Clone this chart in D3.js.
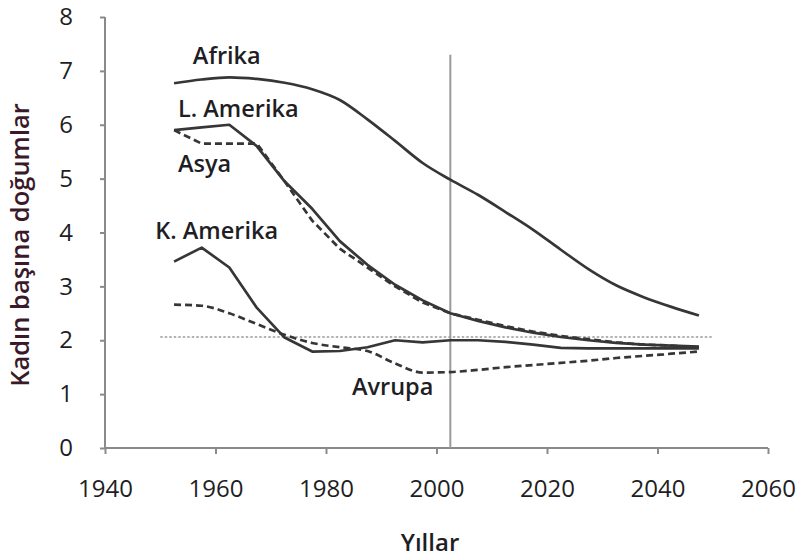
<!DOCTYPE html>
<html><head><meta charset="utf-8">
<script src="https://cdn.jsdelivr.net/npm/d3@7"></script>
<style>
body{margin:0;background:#fff;}
svg{display:block;font-family:"Open Sans",sans-serif;}
</style></head>
<body><svg id="c" width="799" height="558"></svg>
<script>
const years = [1952.5,1957.5,1962.5,1967.5,1972.5,1977.5,1982.5,1987.5,1992.5,1997.5,2002.5,2007.5,2012.5,2017.5,2022.5,2027.5,2032.5,2037.5,2042.5,2047.5];
const afrika   = [6.77,6.84,6.88,6.85,6.78,6.66,6.46,6.10,5.70,5.29,4.98,4.70,4.38,4.05,3.68,3.32,3.02,2.80,2.62,2.46];
const lAmerika = [5.90,5.95,6.00,5.60,4.95,4.44,3.84,3.40,3.03,2.74,2.50,2.36,2.24,2.14,2.06,2.00,1.95,1.92,1.90,1.88];
const asya     = [5.90,5.65,5.65,5.65,4.95,4.22,3.70,3.35,3.00,2.70,2.50,2.38,2.26,2.16,2.08,2.02,1.96,1.92,1.90,1.87];
const kAmerika = [3.46,3.72,3.35,2.60,2.05,1.79,1.80,1.87,2.00,1.96,2.00,2.00,1.97,1.92,1.86,1.85,1.85,1.85,1.85,1.85];
const avrupa   = [2.66,2.64,2.50,2.30,2.10,1.95,1.87,1.80,1.57,1.40,1.41,1.45,1.50,1.54,1.58,1.62,1.67,1.71,1.75,1.79];
const replacementYears = [1950,2050];
const replacementLevel = [2.06,2.06];
const currentYear = 2002.5;
const currentTop = 7.3;
const xTicks = [1940,1960,1980,2000,2020,2040,2060];
const yTicks = [0,1,2,3,4,5,6,7,8];
const labels = ["Afrika","L. Amerika","Asya","K. Amerika","Avrupa"];
const labelYears = [1955.9,1953.2,1953.2,1949.1,1984.7];
const labelVals  = [7.12,6.15,5.12,3.88,0.98];

const svg = d3.select("#c");
const x = d3.scaleLinear().domain([1940,2060]).range([105,768]);
const y = d3.scaleLinear().domain([0,8]).range([448,17]);
const textCol = "#1e1e24";

// axes
const gx = svg.append("g").attr("transform","translate(0,448)")
  .call(d3.axisBottom(x).tickValues(xTicks).tickFormat(d3.format("d")).tickSize(6).tickPadding(26));
const gy = svg.append("g").attr("transform","translate(105,0)")
  .call(d3.axisLeft(y).tickValues(yTicks).tickSize(5).tickPadding(27));
[gx,gy].forEach(g=>{
  g.select(".domain").attr("stroke","#8a8a8a").attr("stroke-width",2);
  g.selectAll(".tick line").attr("stroke","#8a8a8a").attr("stroke-width",2);
  g.selectAll("text").attr("fill",textCol).style("font-size","24px").style("font-family","Open Sans");
});
gx.select(".domain").attr("d","M105,0H768");
gy.select(".domain").attr("d","M0,448V17");

// replacement level dotted line
const line = d3.line().x((d)=>x(d[0])).y(d=>y(d[1]));
svg.append("path").datum(replacementYears.map((t,i)=>[t,replacementLevel[i]]))
  .attr("d",line).attr("fill","none").attr("stroke","#9a9a9a").attr("stroke-width",1.6).attr("stroke-dasharray","2.5,2");

// current year vertical line
svg.append("line").attr("x1",x(currentYear)).attr("x2",x(currentYear))
  .attr("y1",y(currentTop)).attr("y2",y(0)).attr("stroke","#9a9a9a").attr("stroke-width",2);

const smooth = d3.line().x(d=>x(d[0])).y(d=>y(d[1])).curve(d3.curveMonotoneX);
const straight = d3.line().x(d=>x(d[0])).y(d=>y(d[1]));
const series = [
  {v:avrupa,dash:"7,4",gen:smooth},
  {v:asya,dash:"7,4",gen:straight},
  {v:kAmerika,dash:null,gen:straight},
  {v:lAmerika,dash:null,gen:straight},
  {v:afrika,dash:null,gen:smooth}
];
series.forEach(s=>{
  svg.append("path").datum(years.map((t,i)=>[t,s.v[i]]))
    .attr("d",s.gen).attr("fill","none").attr("stroke","#363636")
    .attr("stroke-width",2.7).attr("stroke-linejoin","round").attr("stroke-dasharray",s.dash);
});

// series labels
labels.forEach((l,i)=>{
  svg.append("text").attr("x",x(labelYears[i])).attr("y",y(labelVals[i]))
    .attr("fill",textCol).style("font-size","23.5px").style("font-weight","600").text(l);
});

// axis titles
svg.append("text").attr("x",430).attr("y",551).attr("text-anchor","middle")
  .attr("fill",textCol).style("font-size","24px").style("font-weight","600").text("Yıllar");
svg.append("text").attr("transform","translate(29,245) rotate(-90)").attr("text-anchor","middle")
  .attr("fill","#3a1a2a").style("font-size","25.5px").style("font-weight","600").text("Kadın başına doğumlar");
</script></body></html>
